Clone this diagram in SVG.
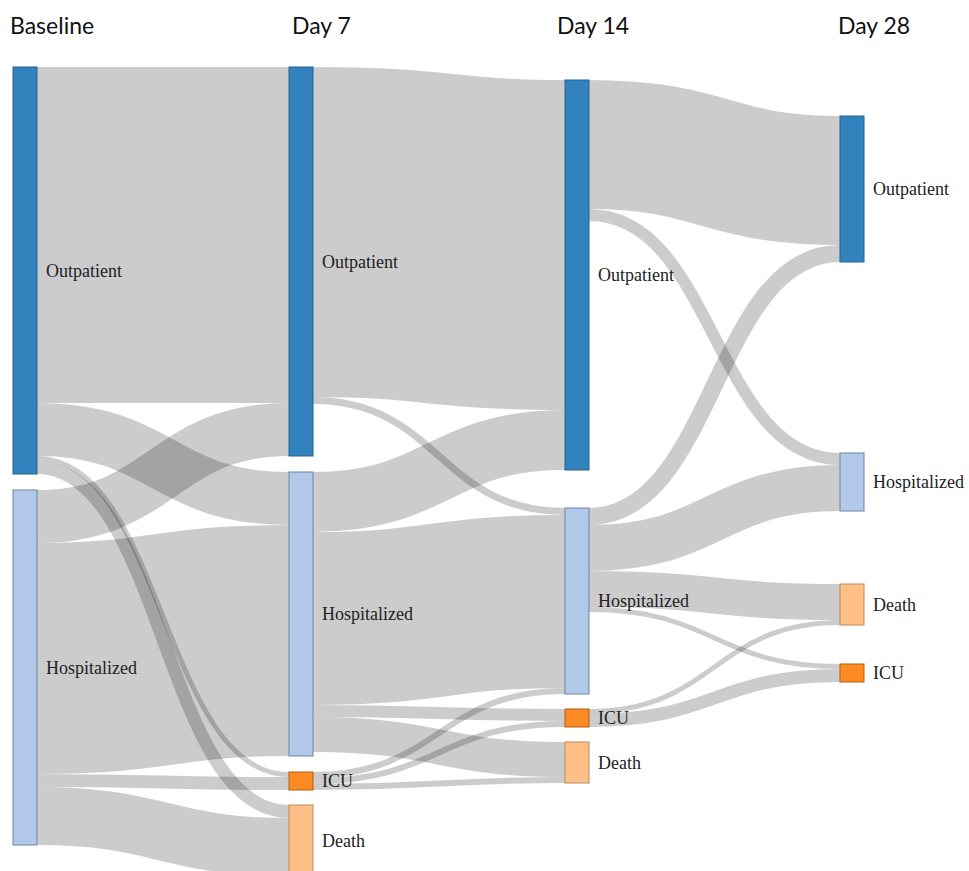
<svg xmlns="http://www.w3.org/2000/svg" width="969" height="871" viewBox="0 0 969 871">
<style>
.link{fill:none;stroke:#000;stroke-opacity:0.2}
.out{fill:#3182bd;stroke:#24618e;stroke-width:1}
.hosp{fill:#b3c9ea;stroke:#6d83a3;stroke-width:1}
.icu{fill:#fd8a22;stroke:#b05e12;stroke-width:1}
.death{fill:#ffbf87;stroke:#b88a5e;stroke-width:1}
.lbl{font-family:"Liberation Serif","Times New Roman",serif;font-size:18px;fill:#222}
.hdr{font-family:Lato,"Liberation Sans",sans-serif;font-size:23px;fill:#111}
</style>
<rect width="969" height="871" fill="#fff"/>
<g id="headers">
<text class="hdr" x="10" y="34">Baseline</text>
<text class="hdr" x="292" y="34">Day 7</text>
<text class="hdr" x="557" y="34">Day 14</text>
<text class="hdr" x="838" y="34">Day 28</text>
</g>
<g id="links">
<path class="link" stroke-width="336" d="M37,235C163,235 163,235 289,235"/>
<path class="link" stroke-width="53" d="M37,429.5C163,429.5 163,498.5 289,498.5"/>
<path class="link" stroke-width="5" d="M37,458.5C163,458.5 163,774.5 289,774.5"/>
<path class="link" stroke-width="13" d="M37,467.5C163,467.5 163,811.5 289,811.5"/>
<path class="link" stroke-width="53" d="M37,516.5C163,516.5 163,429.5 289,429.5"/>
<path class="link" stroke-width="231" d="M37,658.5C163,658.5 163,640.5 289,640.5"/>
<path class="link" stroke-width="13" d="M37,780.5C163,780.5 163,783.5 289,783.5"/>
<path class="link" stroke-width="58" d="M37,816C163,816 163,847 289,847"/>
<path class="link" stroke-width="330" d="M313,232C439,232 439,245 565,245"/>
<path class="link" stroke-width="7" d="M313,400.5C439,400.5 439,511.5 565,511.5"/>
<path class="link" stroke-width="60" d="M313,502C439,502 439,440 565,440"/>
<path class="link" stroke-width="173" d="M313,618.5C439,618.5 439,601.5 565,601.5"/>
<path class="link" stroke-width="12" d="M313,711C439,711 439,715 565,715"/>
<path class="link" stroke-width="35" d="M313,734.5C439,734.5 439,759.5 565,759.5"/>
<path class="link" stroke-width="6" d="M313,775C439,775 439,691 565,691"/>
<path class="link" stroke-width="6" d="M313,781C439,781 439,724 565,724"/>
<path class="link" stroke-width="6" d="M313,787C439,787 439,780 565,780"/>
<path class="link" stroke-width="129" d="M589,144.5C714.5,144.5 714.5,180.5 840,180.5"/>
<path class="link" stroke-width="12" d="M589,215C714.5,215 714.5,459 840,459"/>
<path class="link" stroke-width="17" d="M589,516.5C714.5,516.5 714.5,253.5 840,253.5"/>
<path class="link" stroke-width="46" d="M589,548C714.5,548 714.5,488 840,488"/>
<path class="link" stroke-width="36" d="M589,589C714.5,589 714.5,602 840,602"/>
<path class="link" stroke-width="5" d="M589,609.5C714.5,609.5 714.5,666.5 840,666.5"/>
<path class="link" stroke-width="5" d="M589,711.5C714.5,711.5 714.5,622.5 840,622.5"/>
<path class="link" stroke-width="13" d="M589,720.5C714.5,720.5 714.5,675.5 840,675.5"/>
</g>
<g id="baseline-outpatient"><rect class="out" x="13" y="67" width="24" height="407"/><text class="lbl" x="46" y="270.5" dy="0.35em">Outpatient</text></g>
<g id="baseline-hospitalized"><rect class="hosp" x="13" y="490" width="24" height="355"/><text class="lbl" x="46" y="667.5" dy="0.35em">Hospitalized</text></g>
<g id="day7-outpatient"><rect class="out" x="289" y="67" width="24" height="389"/><text class="lbl" x="322" y="261.5" dy="0.35em">Outpatient</text></g>
<g id="day7-hospitalized"><rect class="hosp" x="289" y="472" width="24" height="284"/><text class="lbl" x="322" y="614" dy="0.35em">Hospitalized</text></g>
<g id="day7-icu"><rect class="icu" x="289" y="772" width="24" height="18"/><text class="lbl" x="322" y="781" dy="0.35em">ICU</text></g>
<g id="day7-death"><rect class="death" x="289" y="805" width="24" height="71"/><text class="lbl" x="322" y="840.5" dy="0.35em">Death</text></g>
<g id="day14-outpatient"><rect class="out" x="565" y="80" width="24" height="390"/><text class="lbl" x="598" y="275" dy="0.35em">Outpatient</text></g>
<g id="day14-hospitalized"><rect class="hosp" x="565" y="508" width="24" height="186"/><text class="lbl" x="598" y="601" dy="0.35em">Hospitalized</text></g>
<g id="day14-icu"><rect class="icu" x="565" y="709" width="24" height="18"/><text class="lbl" x="598" y="718" dy="0.35em">ICU</text></g>
<g id="day14-death"><rect class="death" x="565" y="742" width="24" height="41"/><text class="lbl" x="598" y="762.5" dy="0.35em">Death</text></g>
<g id="day28-outpatient"><rect class="out" x="840" y="116" width="24" height="146"/><text class="lbl" x="873" y="189" dy="0.35em">Outpatient</text></g>
<g id="day28-hospitalized"><rect class="hosp" x="840" y="453" width="24" height="58"/><text class="lbl" x="873" y="482" dy="0.35em">Hospitalized</text></g>
<g id="day28-death"><rect class="death" x="840" y="584" width="24" height="41"/><text class="lbl" x="873" y="604.5" dy="0.35em">Death</text></g>
<g id="day28-icu"><rect class="icu" x="840" y="664" width="24" height="18"/><text class="lbl" x="873" y="673" dy="0.35em">ICU</text></g>
</svg>
